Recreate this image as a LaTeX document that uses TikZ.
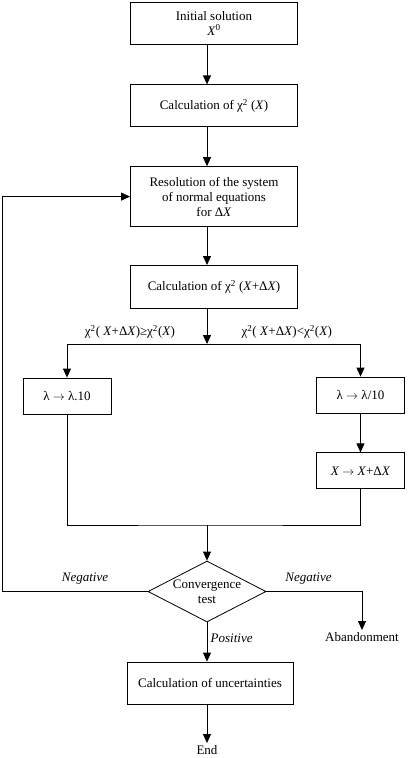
\documentclass[tikz,border=0pt]{standalone}
\usepackage{fontspec}
\setmainfont{Liberation Serif}
\usepackage{tikz}
\usetikzlibrary{positioning,arrows.meta,shapes.geometric}

\begin{document}
\begin{tikzpicture}[
  x=1pt,y=1pt,line width=0.8pt,
  every node/.style={font=\fontsize{13}{15}\selectfont},
  box/.style={draw,minimum width=167pt,minimum height=42pt,align=center,inner sep=2pt},
  sbox/.style={draw,minimum width=88pt,minimum height=36pt,inner sep=2pt},
  test/.style={draw,diamond,aspect=1.93,inner sep=0pt,minimum width=118pt,minimum height=61pt,align=center},
  arr/.style={-{Triangle[length=9pt,width=8pt]}},
  lab/.style={font=\fontsize{13}{15}\selectfont\itshape}
]
\useasboundingbox (0,0) rectangle (408,-758);
\coordinate (axis) at (207,0);
\node[box] (init) at (214,-23) {Initial solution\\\textit{X}\textsuperscript{0}};
\node[box,below=40pt of init] (chi) {Calculation of χ\textsuperscript{2} (\textit{X})};
\node[box,minimum height=60pt,below=39pt of chi] (resol) {Resolution of the system\\of normal equations\\for Δ\textit{X}};
\node[box,minimum height=43pt,below=38pt of resol] (chinew) {Calculation of χ\textsuperscript{2} (\textit{X}+Δ\textit{X})};
\coordinate (split) at (207,-344);
\node[sbox] (up) at (67,-396) {λ $\rightarrow$ λ.10};
\node[sbox] (down) at (360.5,-395) {λ $\rightarrow$ λ/10};
\node[sbox,below=39pt of down] (upd) {\textit{X} $\rightarrow$ \textit{X}+Δ\textit{X}};
\coordinate (merge) at (207,-525);
\node[test] (conv) at (207,-591.5) {Convergence\\test};
\coordinate (back) at (2,-591.5);
\node[inner sep=2pt] (aband) at (362,-637) {Abandonment};
\node[box,minimum width=166pt] (unc) at (210,-683) {Calculation of uncertainties};
\node[inner sep=2pt] (end) at (207,-750) {End};
\draw[arr] (init.south -| axis) -- (chi.north -| axis);
\draw[arr] (chi.south -| axis) -- (resol.north -| axis);
\draw[arr] (resol.south -| axis) -- (chinew.north -| axis);
\draw[arr] (chinew.south -| axis) -- (split);
\draw[arr] (split) -| node[above=2pt,pos=0.275] {χ\textsuperscript{2}( \textit{X}+Δ\textit{X})≥χ\textsuperscript{2}(\textit{X})} (up);
\draw[arr] (split) -| node[above=2pt,pos=0.26] {χ\textsuperscript{2}( \textit{X}+Δ\textit{X})<χ\textsuperscript{2}(\textit{X})} (down);
\draw[arr] (down) -- (upd);
\draw (up) |- (merge) -| (upd);
\draw[arr] (merge) -- (conv);
\draw[arr] (conv.west) -- node[lab,above=4pt,pos=0.43] {Negative} (back) |- (resol);
\draw[arr] (conv.east) -| node[lab,above=4pt,pos=0.22] {Negative} (aband);
\draw[arr] (conv.south) -- node[lab,right,pos=0.4] {Positive} (unc.north -| conv);
\draw[arr] (unc.south -| end) -- (end);
\end{tikzpicture}
\end{document}
